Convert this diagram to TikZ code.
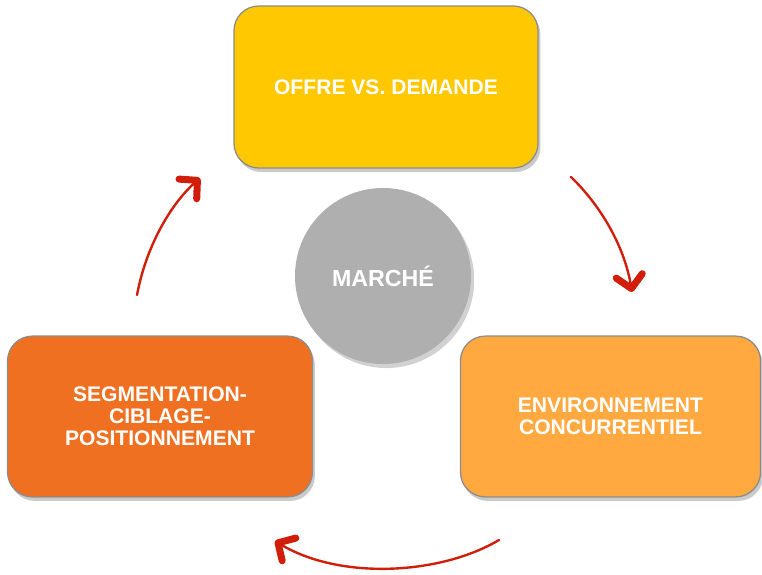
\documentclass[tikz,border=0pt]{standalone}
\usepackage{fontspec}
\setmainfont{Liberation Sans}
\usetikzlibrary{arrows.meta,shadows}
\definecolor{cyellow}{HTML}{FFC800}
\definecolor{corange}{HTML}{F07022}
\definecolor{clight}{HTML}{FFA940}
\definecolor{cgrey}{HTML}{AFAFAF}
\definecolor{cred}{HTML}{D01E0A}
\tikzset{
  card/.style={draw=black!45, line width=0.9pt, rounded corners=0.62cm,
    text=white, font=\bfseries\fontsize{15}{15.5}\selectfont, align=center,
    drop shadow={shadow xshift=0.06cm, shadow yshift=-0.1cm, opacity=0.35, fill=black!60}},
  hub/.style={circle, fill=cgrey, text=white, font=\bfseries\fontsize{16.5}{17}\selectfont,
    drop shadow={shadow xshift=0.08cm, shadow yshift=-0.1cm, opacity=0.3, fill=black!60}},
  flow/.style={cred, line width=1.7pt, line cap=round,
    -{Straight Barb[length=0.32cm, width=0.66cm, line width=5pt, round]}}
}
\begin{document}
\begin{tikzpicture}[x=0.025cm, y=-0.025cm]
\useasboundingbox (0,0) rectangle (762,574);
\node[card, fill=cyellow, minimum width=7.6cm, minimum height=4.05cm] (offre) at (386,87) {OFFRE VS. DEMANDE};
\node[card, fill=corange, minimum width=7.62cm, minimum height=4.02cm] (seg) at (160,416.5) {SEGMENTATION-\\CIBLAGE-\\POSITIONNEMENT};
\node[card, fill=clight, minimum width=7.5cm, minimum height=4.02cm] (env) at (610.5,416.5) {ENVIRONNEMENT\\CONCURRENTIEL};
\node[hub, minimum size=4.4cm] (marche) at (383,276) {MARCHÉ};
\coordinate (a1s) at (137,295);
\coordinate (a1e) at (200,178);
\coordinate (a2s) at (571,177);
\coordinate (a2e) at (632,292);
\coordinate (a3s) at (499,540);
\coordinate (a3e) at (275,541);
\draw[flow] (a1s) .. controls (146,247) and (170,205) .. (a1e);
\draw[flow] (a2s) .. controls (600,205) and (624,245) .. (a2e);
\draw[flow] (a3s) .. controls (440,575) and (340,580) .. (a3e);
\end{tikzpicture}
\end{document}
